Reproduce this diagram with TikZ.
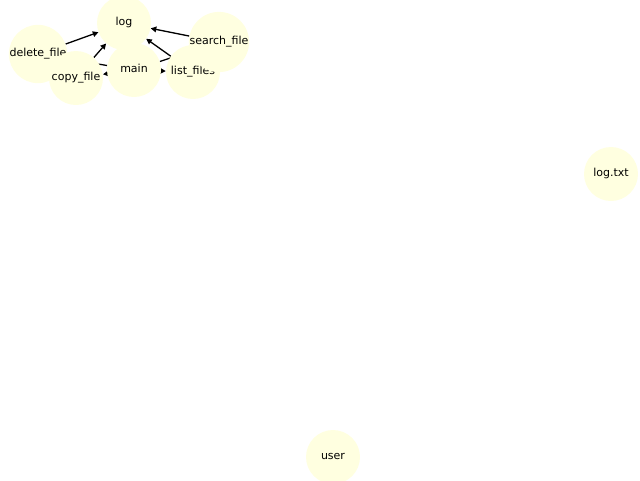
\documentclass[tikz,border=0pt]{standalone}
\usepackage{fontspec}
\setmainfont{DejaVu Sans}
\usetikzlibrary{arrows.meta}
\pgfdeclarelayer{background}
\pgfsetlayers{background,main}
\definecolor{nodefill}{HTML}{FFFFE0}
\tikzset{
  gnode/.style={circle, fill=nodefill, draw=none, minimum size=54pt, inner sep=0pt,
    font=\fontsize{11pt}{13pt}\selectfont},
  gedge/.style={line width=1.3pt, -{Triangle[length=5.6pt,width=5.6pt]}}
}
\begin{document}
\begin{tikzpicture}[x=1pt,y=-1pt]
\useasboundingbox (0,0) rectangle (640,480);
\clip (0,0) rectangle (640,480);
\node[gnode] (log) at (124,23) {\strut log};
\node[gnode] (delete) at (38,54) {\strut delete\_file};
\node[gnode] (copy) at (76,78) {\strut copy\_file};
\node[gnode] (main) at (134,70) {\strut main};
\node[gnode] (list) at (193,72) {\strut list\_files};
\node[gnode] (search) at (219,42) {\strut search\_file};
\node[gnode] (logtxt) at (611,174) {\strut log.txt};
\node[gnode] (user) at (333,457) {\strut user};
\begin{pgfonlayer}{background}
\draw[gedge] (delete) -- (log);
\draw[gedge] (copy) -- (log);
\draw[gedge] (search) -- (log);
\draw[gedge] (list) -- (log);
\draw[gedge] (main) -- (copy);
\draw[gedge] (main) -- (list);
\draw[gedge] (main) -- (delete);
\draw[gedge] (main) -- (search);
\end{pgfonlayer}
\end{tikzpicture}
\end{document}
